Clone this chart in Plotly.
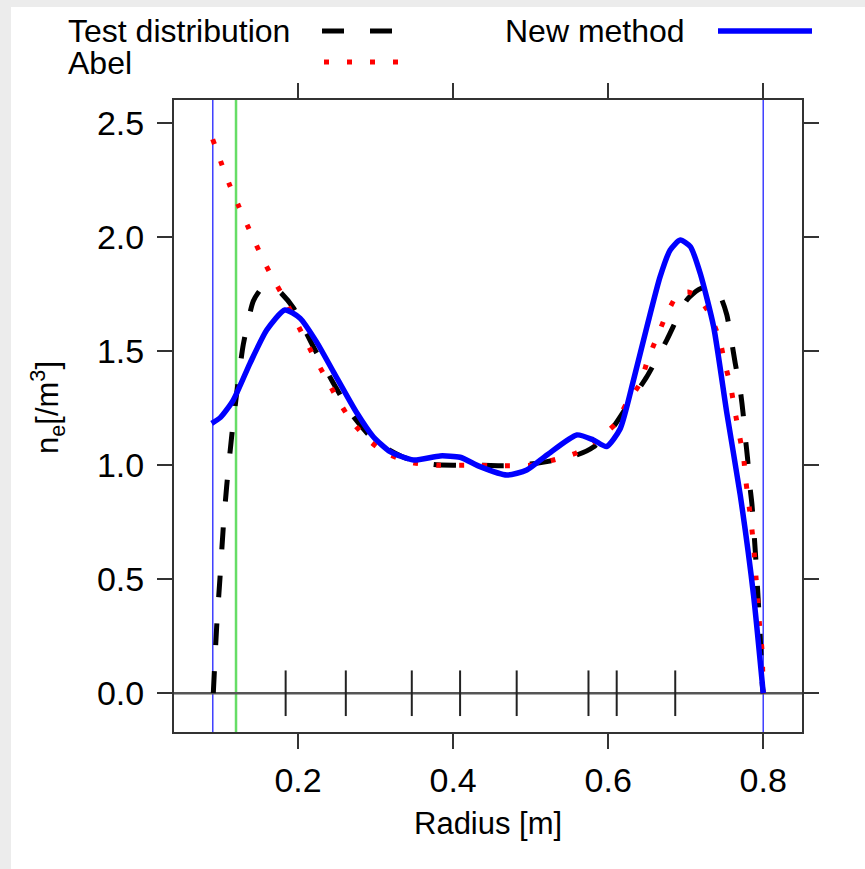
import plotly.graph_objects as go

# ---------------- data ----------------
test_x = [0.0907, 0.095, 0.0994, 0.1036, 0.108, 0.1145, 0.121, 0.1294, 0.1423, 0.153, 0.165,
          0.1768, 0.194, 0.2197, 0.2456, 0.27, 0.295, 0.3187, 0.34, 0.3746, 0.4048, 0.439,
          0.465, 0.4994, 0.521, 0.5596, 0.581, 0.607, 0.624, 0.65, 0.6757, 0.7014, 0.7165,
          0.729, 0.7445, 0.753, 0.7596, 0.7639, 0.7703, 0.7738, 0.7768, 0.7798, 0.7824,
          0.7854, 0.79, 0.793, 0.7961, 0.799, 0.8]
test_y = [0.0, 0.29, 0.51, 0.73, 0.91, 1.13, 1.32, 1.53, 1.72, 1.775, 1.785,
          1.76, 1.69, 1.52, 1.36, 1.22, 1.12, 1.065, 1.03, 1.003, 1.0, 1.0,
          0.998, 1.005, 1.016, 1.045, 1.08, 1.17, 1.257, 1.389, 1.55, 1.725, 1.77,
          1.785, 1.74, 1.66, 1.535, 1.447, 1.33, 1.235, 1.125, 1.03, 0.92,
          0.83, 0.61, 0.44, 0.25, 0.03, 0.0]

abel_x = [0.0899, 0.1003, 0.1114, 0.1235, 0.1364, 0.1493, 0.163, 0.1777, 0.1923, 0.2068,
          0.2206, 0.2357, 0.2512, 0.2671, 0.2886, 0.31, 0.33, 0.35, 0.38, 0.42, 0.46, 0.5,
          0.5294, 0.5596, 0.5853, 0.609, 0.6232, 0.6413, 0.651, 0.6628, 0.6744, 0.6894,
          0.703, 0.716, 0.7305, 0.7436, 0.7505, 0.7578, 0.7634, 0.769, 0.7746, 0.7777,
          0.7816, 0.7854, 0.7884, 0.7906, 0.7931, 0.7953, 0.7983, 0.8]
abel_y = [2.43, 2.332, 2.232, 2.136, 2.039, 1.943, 1.848, 1.759, 1.664, 1.567,
          1.476, 1.384, 1.289, 1.202, 1.118, 1.06, 1.03, 1.01, 1.0, 1.0, 0.998, 1.0,
          1.023, 1.055, 1.111, 1.18, 1.268, 1.36, 1.462, 1.561, 1.655, 1.747,
          1.76, 1.738, 1.665, 1.553, 1.447, 1.349, 1.239, 1.136, 1.035, 0.928,
          0.826, 0.719, 0.614, 0.511, 0.402, 0.296, 0.194, 0.0]

new_x = [0.0886, 0.1, 0.1165, 0.138, 0.1596, 0.183, 0.2026, 0.224, 0.2456, 0.2757,
         0.297, 0.3187, 0.3488, 0.3832, 0.409, 0.4348, 0.4693, 0.495, 0.521, 0.5596, 0.581,
         0.598, 0.6155, 0.6327, 0.65, 0.667, 0.68, 0.693, 0.706, 0.7187, 0.736, 0.753,
         0.7703, 0.7875, 0.8]
new_y = [1.184, 1.21, 1.286, 1.447, 1.593, 1.681, 1.645, 1.54, 1.41, 1.23,
         1.125, 1.06, 1.023, 1.041, 1.035, 0.994, 0.957, 0.979, 1.045, 1.133, 1.111,
         1.082, 1.16, 1.374, 1.608, 1.827, 1.944, 1.988, 1.959, 1.842, 1.608, 1.23,
         0.87, 0.43, 0.0]

knots_x = [0.184, 0.2616, 0.3467, 0.409, 0.482, 0.5746, 0.611, 0.6865]
blue_vlines_x = [0.09, 0.8]
green_vlines_x = [0.12]
x_ticks = [0.2, 0.4, 0.6, 0.8]
y_ticks = [0.0, 0.5, 1.0, 1.5, 2.0, 2.5]

# ---------------- figure ----------------
FONT = "Liberation Sans, Arial, Helvetica, sans-serif"
FS_TICK = 34
FS_KEY = 32
FS_TITLE = 31
fig = go.Figure()

# knot ticks along the zero line
kx, ky = [], []
for k in knots_x:
    kx += [k, k, None]
    ky += [-0.1, 0.1, None]
fig.add_trace(go.Scatter(x=kx, y=ky, mode="lines", line=dict(color="#222222", width=2),
                         hoverinfo="skip", showlegend=False))

fig.add_trace(go.Scatter(x=test_x, y=test_y, mode="lines", name="Test distribution",
                         line=dict(color="black", width=5, dash="22px,26px", shape="spline", smoothing=0.6),
                         showlegend=False))
fig.add_trace(go.Scatter(x=abel_x, y=abel_y, mode="lines", name="Abel",
                         line=dict(color="#ff0000", width=5, dash="5px,18px", shape="spline", smoothing=0.6),
                         showlegend=False))
fig.add_trace(go.Scatter(x=new_x, y=new_y, mode="lines", name="New method",
                         line=dict(color="#0000ff", width=5.5, shape="spline", smoothing=0.6),
                         showlegend=False))

for v in blue_vlines_x:
    fig.add_vline(x=v, line=dict(color="#3f3fff", width=1.5), layer="below")
for v in green_vlines_x:
    fig.add_vline(x=v, line=dict(color="#66dd66", width=2.5), layer="below")
fig.add_hline(y=0, line=dict(color="#555555", width=2.5), layer="below")

# geometry helpers (pixel -> paper)
L, T, W, H = 174, 100, 628, 632
def px(x):
    return (x - L) / W
def py(y):
    return (T + H - y) / H

# light grey frame strips
fig.add_shape(type="rect", xref="paper", yref="paper", x0=px(0), x1=px(11), y0=py(869), y1=py(0),
              fillcolor="#ececec", line=dict(width=0), layer="below")
fig.add_shape(type="rect", xref="paper", yref="paper", x0=px(0), x1=px(865), y0=py(7), y1=py(0),
              fillcolor="#ececec", line=dict(width=0), layer="below")

# custom key (text left, sample right)
def key_text(txt, x, y):
    fig.add_annotation(text=txt, xref="paper", yref="paper", x=px(x), y=py(y),
                       xanchor="left", yanchor="middle", showarrow=False,
                       font=dict(family=FONT, size=FS_KEY, color="black"))
key_text("Test distribution", 66, 31)
key_text("Abel", 66, 63)
key_text("New method", 503, 31)
fig.add_shape(type="line", xref="paper", yref="paper", x0=px(322), x1=px(400), y0=py(31), y1=py(31),
              line=dict(color="black", width=5, dash="22px,26px"))
fig.add_shape(type="line", xref="paper", yref="paper", x0=px(324), x1=px(402), y0=py(62), y1=py(62),
              line=dict(color="#ff0000", width=5, dash="5px,18px"))
fig.add_shape(type="line", xref="paper", yref="paper", x0=px(718), x1=px(812), y0=py(31), y1=py(31),
              line=dict(color="#0000ff", width=5.5))

# axis titles
fig.add_annotation(text="Radius [m]", xref="paper", yref="paper", x=0.5, y=py(823),
                   xanchor="center", yanchor="middle", showarrow=False,
                   font=dict(family=FONT, size=FS_TITLE, color="black"))
fig.add_annotation(text="n<sub>e</sub>[/m<sup>3</sup>]", xref="paper", yref="paper",
                   x=px(47), y=py(408), textangle=-90,
                   xanchor="center", yanchor="middle", showarrow=False,
                   font=dict(family=FONT, size=FS_TITLE, color="black"))

axis_common = dict(showgrid=False, zeroline=False, showline=True, linecolor="#333333", linewidth=2,
                   mirror="allticks", ticks="outside", ticklen=15, tickwidth=2, tickcolor="#333333",
                   tickfont=dict(family=FONT, size=FS_TICK, color="black"))
fig.update_xaxes(range=[0.04, 0.85], tickvals=x_ticks, ticktext=[f"{v:.1f}" for v in x_ticks],
                 ticklabelstandoff=2, **axis_common)
fig.update_yaxes(range=[-0.17, 2.602], tickvals=y_ticks, ticktext=[f"{v:.1f}" for v in y_ticks],
                 ticklabelstandoff=6, **axis_common)

fig.update_layout(width=865, height=869, margin=dict(l=L, r=865 - L - W, t=T, b=869 - T - H),
                  paper_bgcolor="white", plot_bgcolor="white", showlegend=False,
                  font=dict(family=FONT, size=FS_TICK, color="black"))

fig.write_html("out.html", config={"displayModeBar": False},
               post_script="document.body.style.margin='0';document.body.style.overflow='hidden';"
                           "document.documentElement.style.overflow='hidden';document.body.style.background='white';")
